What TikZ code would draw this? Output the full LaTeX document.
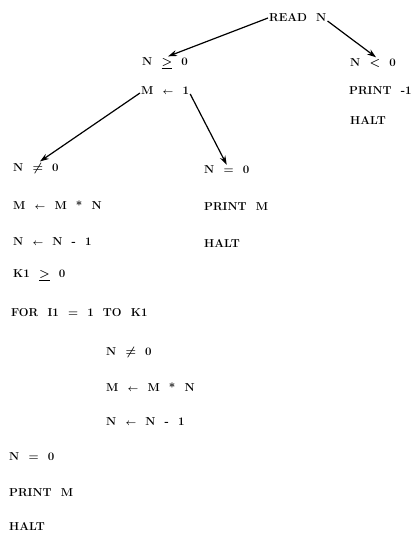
\documentclass[tikz,border=0pt]{standalone}
\usetikzlibrary{arrows.meta}
\begin{document}
\begin{tikzpicture}[x=1pt,y=-1pt,
  txt/.style={anchor=west,inner sep=1pt,font=\fontsize{11.5}{13}\selectfont\bfseries\boldmath},
  arr/.style={-{Stealth[length=9pt,width=6pt]},line width=1.2pt}]
\useasboundingbox (0,0) rectangle (418,533);
\newcommand{\gp}{\hspace{0.8em}}
\newcommand{\la}{{\fontsize{9}{9}\selectfont$\leftarrow$}}
\node[txt] (readn) at (268,18) {READ\gp N};
\node[txt] (nge) at (141,63) {N\gp$\underline{>}$\gp0};
\node[txt] (nlt) at (349,63) {N\gp$<$\gp0};
\node[txt] (m1) at (140,91) {M\gp\la\gp1};
\node[txt] (p1) at (348,91) {PRINT\gp-1};
\node[txt] (h1) at (349,120) {HALT};
\node[txt] (nne) at (12,168) {N\gp$\neq$\gp0};
\node[txt] (neq) at (203,170) {N\gp=\gp0};
\node[txt] (mmn) at (12,205) {M\gp\la\gp M\gp*\gp N};
\node[txt] (pm1) at (203,207) {PRINT\gp M};
\node[txt] (nn1) at (12,242) {N\gp\la\gp N\gp-\gp1};
\node[txt] (h2) at (203,243) {HALT};
\node[txt] (k1) at (12,275) {K1\gp$\underline{>}$\gp0};
\node[txt] (for) at (10,313) {FOR\gp I1\gp=\gp1\gp TO\gp K1};
\node[txt] (nne2) at (105,352) {N\gp$\neq$\gp0};
\node[txt] (mmn2) at (105,387) {M\gp\la\gp M\gp*\gp N};
\node[txt] (nn2) at (105,422) {N\gp\la\gp N\gp-\gp1};
\node[txt] (neq2) at (8,457) {N\gp=\gp0};
\node[txt] (pm2) at (8,493) {PRINT\gp M};
\node[txt] (h3) at (8,526) {HALT};
\draw[arr] (readn.west) -- ([xshift=3pt]nge.north);
\draw[arr] ([yshift=-3pt]readn.east) -- ([xshift=3pt]nlt.north);
\draw[arr] ([yshift=-2pt]m1.west) -- ([xshift=4pt]nne.north);
\draw[arr] ([yshift=-3pt]m1.east) -- (neq.north);
\end{tikzpicture}
\end{document}
